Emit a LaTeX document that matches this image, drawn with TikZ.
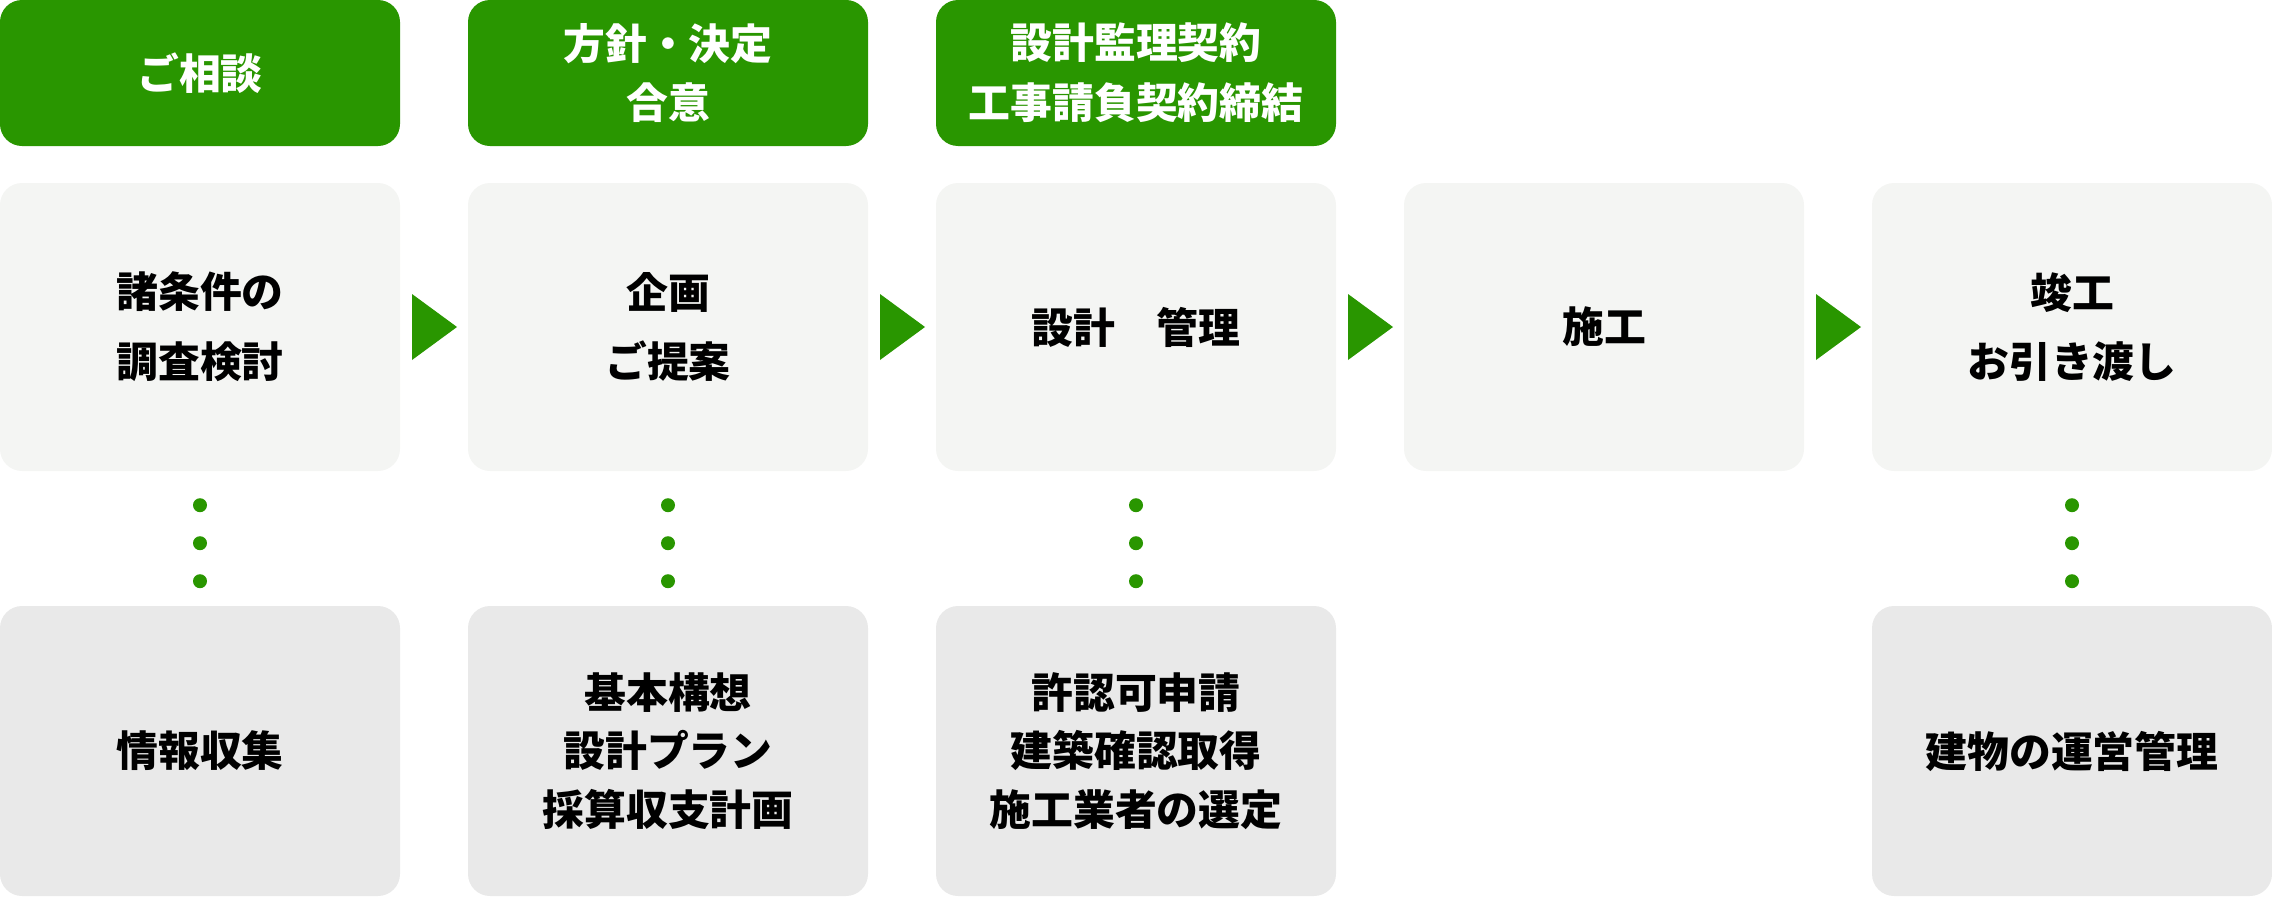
\documentclass[tikz,border=0pt]{standalone}
\usepackage{fontspec}
\setmainfont{Noto Sans CJK JP}
\usetikzlibrary{calc,positioning,shapes}
\definecolor{kgreen}{RGB}{41,150,0}
\definecolor{klight}{RGB}{244,245,243}
\definecolor{kgray}{RGB}{233,233,233}

\begin{document}
\begin{tikzpicture}[x=1bp,y=-1bp,
  box/.style={rounded corners=22bp,minimum width=400bp,inner sep=0pt,align=center},
  head/.style={box,fill=kgreen,text=white,minimum height=146bp,font=\fontsize{42}{60}\selectfont\bfseries},
  stage/.style={box,fill=klight,minimum height=288bp,font=\fontsize{42}{70}\selectfont\bfseries},
  task/.style={box,fill=kgray,minimum height=290bp,font=\fontsize{42}{59}\selectfont\bfseries},
  dot/.style={fill=kgreen,circle,minimum width=14bp,inner sep=0pt}]
  \useasboundingbox (0,0) rectangle (2272,898);

  \node[head] (h1) at (200,73) {ご相談};
  \node[head] (h2) at (668,73) {方針・決定\\合意};
  \node[head] (h3) at (1136,73) {設計監理契約\\工事請負契約締結};

  \node[stage] (m1) at (200,327) {諸条件の\\調査検討};
  \node[stage] (m2) at (668,327) {企画\\ご提案};
  \node[stage] (m3) at (1136,327) {設計　管理};
  \node[stage] (m4) at (1604,327) {施工};
  \node[stage] (m5) at (2072,327) {竣工\\お引き渡し};

  \node[task] (b1) at (200,751) {情報収集};
  \node[task] (b2) at (668,751) {基本構想\\設計プラン\\採算収支計画};
  \node[task] (b3) at (1136,751) {許認可申請\\建築確認取得\\施工業者の選定};
  \node[task] (b5) at (2072,751) {建物の運営管理};

  % triangles between the stages
  \foreach \a/\b in {1/2,2/3,3/4,4/5}
    \fill[kgreen] ($(m\a.east)!0.5!(m\b.west)+(-22,-33)$) -- ++(45,33) -- ++(-45,33) -- cycle;

  % dots down to the tasks
  \foreach \c in {1,2,3,5}
    \foreach \d in {34,72,110}
      \node[dot] at ($(m\c.south)+(0,\d)$) {};
\end{tikzpicture}
\end{document}
